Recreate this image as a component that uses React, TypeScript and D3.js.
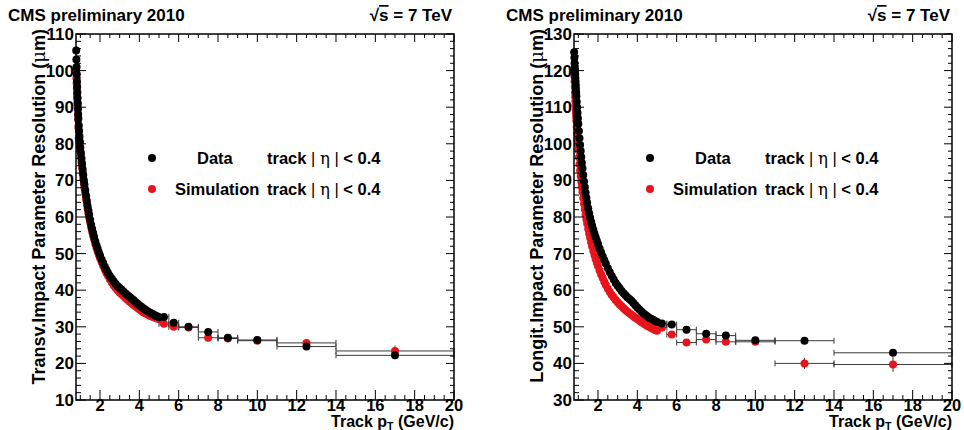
import React from "react";
import * as d3 from "d3";

// ---------- data ----------
const ptDense = [
  0.79, 0.8, 0.81, 0.82, 0.83, 0.84, 0.85, 0.86, 0.87, 0.88, 0.89, 0.9,
  0.92, 0.94, 0.96, 0.98, 1.0,
  1.03, 1.06, 1.09, 1.12, 1.15, 1.18, 1.21,
  1.25, 1.29, 1.33, 1.37, 1.41, 1.45,
  1.5, 1.55, 1.6, 1.65, 1.7,
  1.76, 1.82, 1.88, 1.94, 2.0,
  2.08, 2.16, 2.24, 2.32, 2.4,
  2.5, 2.6, 2.7, 2.8, 2.9, 3.0, 3.1, 3.2, 3.3, 3.4, 3.5, 3.6, 3.7, 3.8, 3.9,
  4.0, 4.1, 4.2, 4.3, 4.4, 4.5, 4.6, 4.7, 4.8, 4.9, 5.0,
];

const transvData = [
  105.5, 103, 101, 99, 97, 95.5, 94, 92.5, 91, 89.5, 88, 87,
  85, 83.5, 82, 80.5, 79,
  77.5, 76, 74.5, 73, 71.5, 70, 68.8,
  67.3, 65.8, 64.4, 63, 61.8, 60.6,
  59.2, 57.9, 56.7, 55.6, 54.6,
  53.4, 52.3, 51.3, 50.4, 49.5,
  48.4, 47.4, 46.5, 45.6, 44.8,
  43.9, 43.1, 42.4, 41.7, 41.1, 40.6, 40.1, 39.6, 39.1, 38.6, 38.2, 37.7, 37.3,
  36.8, 36.4, 35.9, 35.5, 35.1, 34.7, 34.3, 34.0, 33.7, 33.4, 33.1, 32.9, 32.6,
];

const transvSim = [
  100, 98, 96.5, 95, 93.5, 92.5, 91.5, 90.5, 89.5, 88, 86.5, 84.5,
  81.5, 81, 80, 79, 78,
  76.5, 75, 73.5, 72, 70.5, 69.2, 68,
  66.5, 65, 63.6, 62.3, 61, 59.8,
  58.5, 57.2, 56, 54.9, 53.9,
  52.7, 51.6, 50.6, 49.7, 48.8,
  47.7, 46.7, 45.7, 44.8, 44,
  43, 42.1, 41.3, 40.6, 40, 39.4, 38.9, 38.4, 37.9, 37.4, 36.9, 36.5, 36,
  35.6, 35.2, 34.8, 34.4, 34, 33.7, 33.4, 33.1, 32.9, 32.7, 32.5, 32.3, 32.1,
];

const longitData = [
  125, 123.5, 122, 121, 120, 119, 118, 117, 116, 115, 114, 113,
  111.5, 110, 108.5, 107, 105.5,
  103.5, 101.5, 99.7, 98, 96.4, 94.8, 93.3,
  91.5, 89.7, 88.1, 86.6, 85.2, 83.9,
  82.4, 81, 79.8, 78.7, 77.7,
  76.6, 75.5, 74.5, 73.5, 72.6,
  71.4, 70.3, 69.2, 68.2, 67.2,
  66, 64.9, 63.9, 62.9, 62, 61.2, 60.5, 59.8, 59.2, 58.6, 58, 57.6, 57.1,
  56.5, 55.9, 55.3, 54.7, 54.2, 53.7, 53.3, 52.9, 52.5, 52.2, 51.9, 51.6, 51.3,
];

const longitSim = [
  120, 118.5, 117, 115.5, 114, 112.8, 111.6, 110.5, 109.4, 108.3, 107.3, 106.3,
  104.5, 102.8, 101.2, 99.7, 98.3,
  96.3, 94.4, 92.7, 91.1, 89.6, 88.2, 86.9,
  85.2, 83.6, 82.1, 80.7, 79.4, 78.2,
  76.8, 75.5, 74.3, 73.1, 72,
  70.8, 69.6, 68.5, 67.5, 66.6,
  65.4, 64.3, 63.3, 62.3, 61.4,
  60.4, 59.5, 58.7, 58, 57.3, 56.7, 56.1, 55.6, 55.1, 54.6, 54.1, 53.7, 53.3,
  52.9, 52.5, 52.1, 51.7, 51.3, 51, 50.6, 50.3, 50, 49.7, 49.4, 49.1, 48.9,
];

const ptWide = [5.25, 5.75, 6.5, 7.5, 8.5, 10, 12.5, 17];
const ptWideLo = [5, 5.5, 6, 7, 8, 9, 11, 14];
const ptWideHi = [5.5, 6, 7, 8, 9, 11, 14, 20];

const transvDataWide = [32.7, 31.1, 30.0, 28.6, 27.0, 26.4, 24.6, 22.2];
const transvDataErr = [0.3, 0.3, 0.3, 0.4, 0.4, 0.4, 0.6, 0.8];
const transvSimWide = [30.8, 30.0, 29.8, 27.0, 26.8, 26.2, 25.6, 23.4];
const transvSimErr = [0.3, 0.3, 0.4, 0.5, 0.5, 0.6, 1.0, 1.5];

const longitDataWide = [50.9, 50.6, 49.2, 48.1, 47.6, 46.3, 46.2, 42.9];
const longitDataErr = [0.3, 0.3, 0.4, 0.4, 0.5, 0.5, 0.8, 1.0];
const longitSimWide = [49.8, 47.9, 45.7, 46.5, 45.9, 45.9, 40.0, 39.7];
const longitSimErr = [0.4, 0.4, 0.5, 0.6, 0.6, 0.7, 1.5, 2.0];

const xTickLabels = [2, 4, 6, 8, 10, 12, 14, 16, 18, 20];
const transvYTicks = [10, 20, 30, 40, 50, 60, 70, 80, 90, 100, 110];
const longitYTicks = [30, 40, 50, 60, 70, 80, 90, 100, 110, 120, 130];

const titleText = "CMS preliminary 2010";
const legendData = "Data";
const legendSim = "Simulation";

// ---------- styling ----------
const FONT = "'Liberation Sans', Arial, Helvetica, sans-serif";
const RED = "#e8141c";
const BLACK = "#000";
const ERR = "#3a3a3a";

type PanelProps = {
  left: number;
  right: number;
  yTicks: number[];
  yTitle: string;
  denseData: number[];
  denseSim: number[];
  wideData: number[];
  wideDataErr: number[];
  wideSim: number[];
  wideSimErr: number[];
};

function Panel(p: PanelProps) {
  const top = 34;
  const bottom = 400;
  const yMin = p.yTicks[0];
  const yMax = p.yTicks[p.yTicks.length - 1];
  const x = d3.scaleLinear().domain([0.78, 20]).range([p.left, p.right]);
  const y = d3.scaleLinear().domain([yMin, yMax]).range([bottom, top]);

  const xMinor = d3.range(1, 20.001, 0.5).filter((v) => Math.abs(v / 2 - Math.round(v / 2)) > 1e-6);
  const yMinor = d3.range(yMin, yMax + 0.001, 2).filter((v) => Math.abs(v % 10) > 1e-6);

  const r = 4;
  const denseSim = ptDense.map((pt, i) => ({ pt, v: p.denseSim[i] }));
  const denseData = ptDense.map((pt, i) => ({ pt, v: p.denseData[i] }));

  const errBars = (vals: number[], errs: number[], key: string) =>
    ptWide.map((pt, i) => {
      const cy = y(vals[i]);
      const x0 = x(ptWideLo[i]);
      const x1 = x(ptWideHi[i]);
      return (
        <g key={key + i} stroke={ERR} strokeWidth={1}>
          <line x1={x0} x2={x1} y1={cy} y2={cy} />
          <line x1={x0} x2={x0} y1={cy - 3} y2={cy + 3} />
          <line x1={x1} x2={x1} y1={cy - 3} y2={cy + 3} />
          <line x1={x(pt)} x2={x(pt)} y1={y(vals[i] - errs[i])} y2={y(vals[i] + errs[i])} />
        </g>
      );
    });

  const legX = p.left + 76;

  return (
    <g fontFamily={FONT} fontWeight="bold">
      {/* header */}
      <text x={p.left - 68} y={21} fontSize={17}>{titleText}</text>
      <text x={p.right - 2} y={21} fontSize={17} textAnchor="end">
        √<tspan textDecoration="overline">s</tspan> = 7 TeV
      </text>

      {/* error bars */}
      {errBars(p.wideSim, p.wideSimErr, "se")}
      {errBars(p.wideData, p.wideDataErr, "de")}

      {/* markers: simulation first, data on top */}
      {denseSim.map((d, i) => (
        <circle key={"s" + i} cx={x(d.pt)} cy={y(d.v)} r={r} fill={RED} />
      ))}
      {ptWide.map((pt, i) => (
        <circle key={"sw" + i} cx={x(pt)} cy={y(p.wideSim[i])} r={r} fill={RED} />
      ))}
      {denseData.map((d, i) => (
        <circle key={"d" + i} cx={x(d.pt)} cy={y(d.v)} r={r} fill={BLACK} />
      ))}
      {ptWide.map((pt, i) => (
        <circle key={"dw" + i} cx={x(pt)} cy={y(p.wideData[i])} r={r} fill={BLACK} />
      ))}

      {/* frame */}
      <rect x={p.left} y={top} width={p.right - p.left} height={bottom - top} fill="none" stroke="#000" strokeWidth={1.5} />

      {/* x ticks */}
      {xTickLabels.map((t) => (
        <g key={"xt" + t} stroke="#000" strokeWidth={1}>
          <line x1={x(t)} x2={x(t)} y1={bottom} y2={bottom - 10} />
          <line x1={x(t)} x2={x(t)} y1={top} y2={top + 8} />
        </g>
      ))}
      {xMinor.map((t) => (
        <g key={"xm" + t} stroke="#000" strokeWidth={1}>
          <line x1={x(t)} x2={x(t)} y1={bottom} y2={bottom - 5} />
          <line x1={x(t)} x2={x(t)} y1={top} y2={top + 4} />
        </g>
      ))}
      {xTickLabels.map((t) => (
        <text key={"xl" + t} x={x(t)} y={411} fontSize={16.5} textAnchor="middle">{t}</text>
      ))}

      {/* y ticks */}
      {p.yTicks.map((t) => (
        <g key={"yt" + t} stroke="#000" strokeWidth={1}>
          <line x1={p.left} x2={p.left + 10} y1={y(t)} y2={y(t)} />
          <line x1={p.right} x2={p.right - 8} y1={y(t)} y2={y(t)} />
        </g>
      ))}
      {yMinor.map((t) => (
        <g key={"ym" + t} stroke="#000" strokeWidth={1}>
          <line x1={p.left} x2={p.left + 5} y1={y(t)} y2={y(t)} />
          <line x1={p.right} x2={p.right - 4} y1={y(t)} y2={y(t)} />
        </g>
      ))}
      {p.yTicks.map((t) => (
        <text key={"yl" + t} x={p.left - 2} y={y(t) + 6} fontSize={17} textAnchor="end">{t}</text>
      ))}

      {/* axis titles */}
      <text transform={`translate(${p.left - 31},29) rotate(-90)`} fontSize={18} textAnchor="end">
        {p.yTitle} (<tspan fontWeight="normal" fontFamily="'DejaVu Serif', serif">μ</tspan>m)
      </text>
      <text x={p.right} y={427} fontSize={16} textAnchor="end">
        Track p<tspan fontSize={10.5} dy={2.5}>T</tspan>
        <tspan dy={-2.5}> (GeV/c)</tspan>
      </text>

      {/* legend */}
      <circle cx={legX} cy={158} r={r} fill={BLACK} />
      <text x={p.left + 121} y={164} fontSize={16.5}>{legendData}</text>
      <circle cx={legX} cy={189} r={r} fill={RED} />
      <text x={p.left + 99} y={195} fontSize={16.5}>{legendSim}</text>
      {[164, 195].map((by) => (
        <text key={"tr" + by} x={p.left + 191} y={by} fontSize={16.5}>
          track <tspan fontWeight="normal">|</tspan> <tspan fontWeight="normal" fontFamily="'DejaVu Serif', serif">η</tspan> <tspan fontWeight="normal">|</tspan> &lt; 0.4
        </text>
      ))}
    </g>
  );
}

export default function App() {
  return (
    <svg
      width={964}
      height={430}
      style={{ position: "absolute", left: 0, top: 0, background: "#fff" }}
    >
      <rect x={0} y={0} width={964} height={430} fill="#fff" />
      <Panel
        left={76}
        right={454}
        yTicks={transvYTicks}
        yTitle="Transv.Impact Parameter Resolution"
        denseData={transvData}
        denseSim={transvSim}
        wideData={transvDataWide}
        wideDataErr={transvDataErr}
        wideSim={transvSimWide}
        wideSimErr={transvSimErr}
      />
      <Panel
        left={574}
        right={952}
        yTicks={longitYTicks}
        yTitle="Longit.Impact Parameter Resolution"
        denseData={longitData}
        denseSim={longitSim}
        wideData={longitDataWide}
        wideDataErr={longitDataErr}
        wideSim={longitSimWide}
        wideSimErr={longitSimErr}
      />
    </svg>
  );
}
